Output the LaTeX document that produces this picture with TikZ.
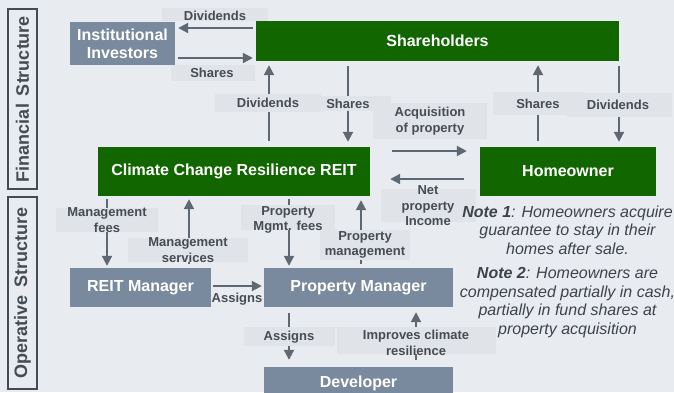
\documentclass[tikz,border=0pt]{standalone}
\usepackage{fontspec}
\setmainfont{Liberation Sans}
\usetikzlibrary{arrows.meta}

\definecolor{bgc}{HTML}{E8ECF0}
\definecolor{lblfill}{HTML}{E0E4E9}
\definecolor{reitgreen}{HTML}{116600}
\definecolor{slate}{HTML}{7A8A9E}
\definecolor{arrowc}{HTML}{5E6873}
\definecolor{lblc}{HTML}{474C52}
\definecolor{sidec}{HTML}{434B55}
\definecolor{notec}{HTML}{3E434A}

\tikzset{
  box/.style={rectangle, inner sep=0pt, align=center, text=white,
    font=\fontsize{16}{18}\selectfont\bfseries},
  greenbox/.style={box, fill=reitgreen},
  slatebox/.style={box, fill=slate},
  arr/.style={draw=arrowc, line width=2pt, -{Triangle[length=10pt,width=10pt]}},
  lbltxt/.style={inner sep=0pt, align=center, text=lblc,
    font=\fontsize{13}{15.5}\selectfont\bfseries},
  lblbg/.style={fill=lblfill},
  sidebox/.style={draw=sidec, line width=1.5pt, rotate=90, inner sep=0pt,
    minimum height=29pt, text=sidec, font=\fontsize{18}{20}\selectfont\bfseries},
  notetxt/.style={inner sep=0pt, align=center, text=notec,
    font=\fontsize{16}{18.5}\selectfont\itshape}
}

\begin{document}
\begin{tikzpicture}[x=1pt, y=-1pt]
  \useasboundingbox (0,0) rectangle (674,392);
  \clip (0,0) rectangle (674,392);
  \fill[bgc] (0,0) rectangle (674,392);

  % side captions
  \node[sidebox, minimum width=180pt] (fin) at (22.5,99) {Financial\hspace{8pt}Structure};
  \node[sidebox, minimum width=192pt] (ops) at (22.5,293) {Operative\hspace{8pt}Structure};

  % entities
  \node[slatebox, minimum width=105pt, minimum height=43pt] (inst) at (122.5,43.5) {Institutional\\Investors};
  \node[greenbox, minimum width=363pt, minimum height=40pt] (sh) at (437.5,41) {Shareholders};
  \node[greenbox, minimum width=272pt, minimum height=49pt] (reit) at (234,171.5) {Climate Change Resilience REIT};
  \node[greenbox, minimum width=176pt, minimum height=49pt] (home) at (568,171.5) {Homeowner};
  \node[slatebox, minimum width=141pt, minimum height=39pt] (rman) at (140.5,287.5) {REIT Manager};
  \node[slatebox, minimum width=189pt, minimum height=39pt] (pman) at (358.5,287.5) {Property Manager};
  \node[slatebox, minimum width=189pt, minimum height=32pt] (dev) at (358.5,383) {Developer};

  % financial flows
  \draw[arr, shorten <=3pt, shorten >=3pt] (sh.west |- 0,28) -- (inst.east |- 0,28);
  \draw[arr, shorten <=3pt, shorten >=3pt] (inst.east |- 0,58) -- (sh.west |- 0,58);
  \draw[arr, shorten <=6pt, shorten >=4pt] (269,0 |- reit.north) -- (269,0 |- sh.south);
  \draw[arr, shorten <=5pt, shorten >=5pt] (348,0 |- sh.south) -- (348,0 |- reit.north);
  \draw[arr, shorten <=22pt, shorten >=13pt] (reit.east |- 0,151) -- (home.west |- 0,151);
  \draw[arr, shorten <=16pt, shorten >=20pt] (home.west |- 0,179) -- (reit.east |- 0,179);
  \draw[arr, shorten <=6pt, shorten >=4pt] (538,0 |- home.north) -- (538,0 |- sh.south);
  \draw[arr, shorten <=5pt, shorten >=5pt] (619,0 |- sh.south) -- (619,0 |- home.north);

  % operative flows
  \draw[arr, shorten <=3pt, shorten >=2pt] (107,0 |- reit.south) -- (107,0 |- rman.north);
  \draw[arr, shorten <=4pt, shorten >=3pt] (189,0 |- rman.north) -- (189,0 |- reit.south);
  \draw[arr, shorten <=3pt, shorten >=2pt] (289,0 |- reit.south) -- (289,0 |- pman.north);
  \draw[arr, shorten <=4pt, shorten >=4pt] (361,0 |- pman.north) -- (361,0 |- reit.south);
  \draw[arr, shorten <=2pt, shorten >=2pt] (rman.east |- 0,286) -- (pman.west |- 0,286);
  \draw[arr, shorten <=6pt, shorten >=7pt] (289,0 |- pman.south) -- (289,0 |- dev.north);
  \draw[arr, shorten <=7pt, shorten >=5pt] (416,0 |- dev.north) -- (416,0 |- pman.south);

  % label backgrounds
  \fill[lblbg] (162,8) rectangle (268,21);
  \fill[lblbg] (171,65) rectangle (255,81);
  \fill[lblbg] (215,94) rectangle (321,112);
  \fill[lblbg] (321,96) rectangle (391,111);
  \fill[lblbg] (373,103) rectangle (487,139);
  \fill[lblbg] (493,92) rectangle (584,115);
  \fill[lblbg] (567,93) rectangle (672,117);
  \fill[lblbg] (381,189) rectangle (476,222);
  \fill[lblbg] (56,208) rectangle (158,232);
  \fill[lblbg] (128,238) rectangle (248,262);
  \fill[lblbg] (241,205) rectangle (335,230);
  \fill[lblbg] (320,230) rectangle (410,260);
  \fill[lblbg] (244,327) rectangle (335,346);
  \fill[lblbg] (337,327) rectangle (496,354);

  % flow labels
  \node[lbltxt] (l1) at (215,15.5) {Dividends};
  \node[lbltxt] (l2) at (212,73) {Shares};
  \node[lbltxt] (l3) at (268,103) {Dividends};
  \node[lbltxt] (l4) at (348,104) {Shares};
  \node[lbltxt] (l5) at (430,121) {Acquisition\\of property};
  \node[lbltxt] (l6) at (538,104) {Shares};
  \node[lbltxt] (l7) at (618,105) {Dividends};
  \node[lbltxt] (l8) at (428,206) {Net\\property\\Income};
  \node[lbltxt] (l9) at (107,220) {Management\\fees};
  \node[lbltxt] (l10) at (188,250) {Management\\services};
  \node[lbltxt] (l11) at (288,220) {Property\\Mgmt. fees};
  \node[lbltxt] (l12) at (365,245) {Property\\management};
  \node[lbltxt] (l13) at (237,299) {Assigns};
  \node[lbltxt] (l14) at (289,337) {Assigns};
  \node[lbltxt] (l15) at (416,343) {Improves climate\\resilience};

  % notes
  \node[notetxt] (n1) at (567.5,230) {\textbf{Note 1}: Homeowners acquire\\guarantee to stay in their\\homes after sale.};
  \node[notetxt] (n2) at (567.5,302.5) {\textbf{Note 2}: Homeowners are\\compensated partially in cash,\\partially in fund shares at\\property acquisition};
\end{tikzpicture}
\end{document}
